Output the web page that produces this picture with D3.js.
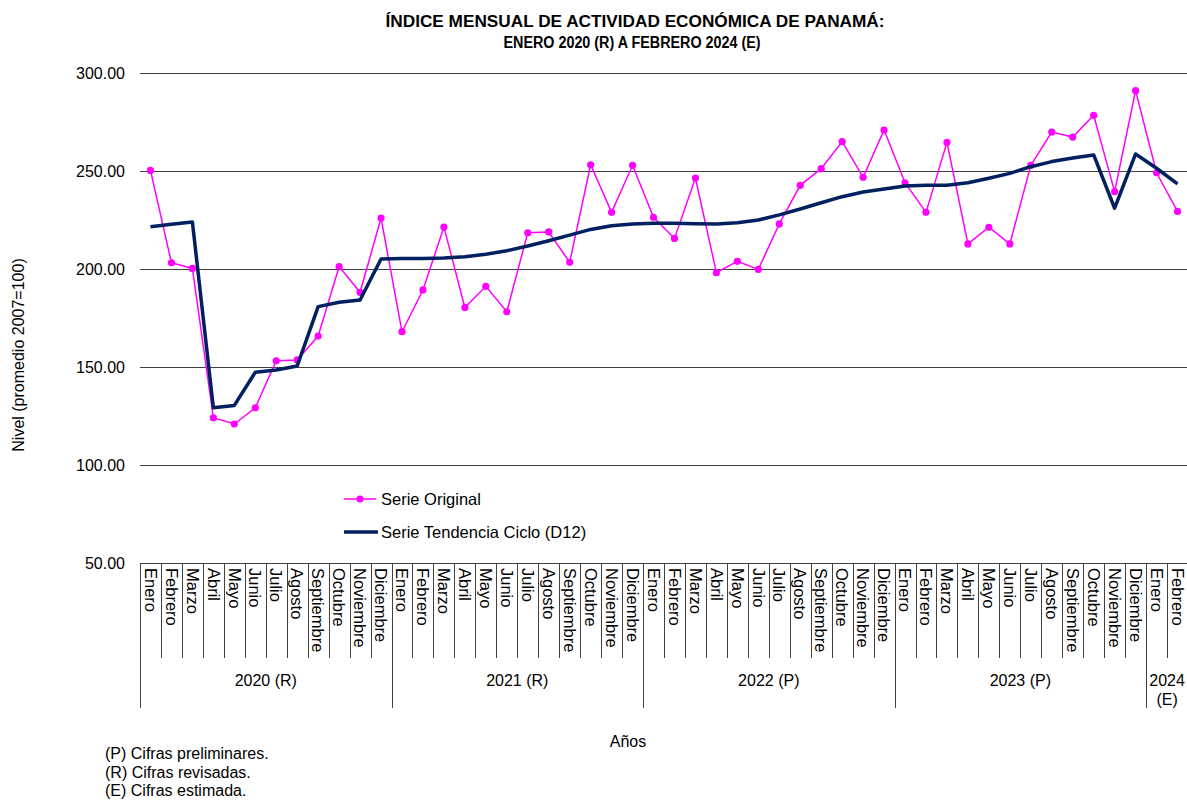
<!DOCTYPE html>
<html>
<head>
<meta charset="utf-8">
<script src="https://cdn.jsdelivr.net/npm/d3@7"></script>
<style>
  body { margin: 0; background: #fff; }
  svg { font-family: "Liberation Sans", Arial, sans-serif; }
</style>
</head>
<body>
<svg id="chart" width="1187" height="800"></svg>
<script>
// Month names for each year
const monthNames = ["Enero", "Febrero", "Marzo", "Abril", "Mayo", "Junio", "Julio", "Agosto",
  "Septiembre", "Octubre", "Noviembre", "Diciembre"];

// Year groups and how many months each one has
const yearGroups = [
  {label: ["2020 (R)"], months: 12},
  {label: ["2021 (R)"], months: 12},
  {label: ["2022 (P)"], months: 12},
  {label: ["2023 (P)"], months: 12},
  {label: ["2024", "(E)"], months: 2}
];

// Serie Original
const original = [
  250.3, 203.2, 200.3, 124.1, 120.9, 129.2, 153.2, 153.6, 165.8, 201.2, 188.1, 226.0,
  168.0, 189.3, 221.4, 180.4, 191.2, 178.2, 218.5, 218.9, 203.4, 253.2, 228.9, 252.9,
  226.4, 215.6, 246.4, 198.1, 203.9, 199.8, 223.0, 242.7, 251.2, 265.0, 246.8, 270.9,
  244.0, 228.9, 264.6, 212.8, 221.3, 212.8, 252.9, 269.9, 267.3, 278.4, 239.5, 291.0,
  249.1, 229.4
];

// Serie Tendencia Ciclo (D12)
const trend = [
  221.6, 222.8, 224.0, 129.2, 130.4, 147.3, 148.5, 150.5, 180.8, 183.0, 184.2, 205.1,
  205.3, 205.4, 205.6, 206.3, 207.5, 209.3, 211.7, 214.4, 217.3, 220.2, 222.1, 223.0,
  223.3, 223.3, 223.1, 223.0, 223.6, 225.0, 227.6, 230.6, 233.8, 236.9, 239.3, 240.8,
  242.3, 242.7, 242.7, 244.0, 246.3, 248.8, 252.2, 254.8, 256.6, 258.2, 231.0, 258.7,
  251.4, 243.4
];

const yTicks = [50, 100, 150, 200, 250, 300];

const footnotes = ["(P) Cifras preliminares.", "(R) Cifras revisadas.", "(E) Cifras estimada."];

// Build month labels from the year groups
const monthLabels = [];
yearGroups.forEach(g => { for (let i = 0; i < g.months; i++) monthLabels.push(monthNames[i]); });

const svg = d3.select("#chart");
const plotLeft = 140, plotRight = 1188, plotTop = 73, plotBottom = 563;

const x = d3.scaleBand().domain(d3.range(original.length)).range([plotLeft, plotRight]);
const y = d3.scaleLinear().domain([50, 300]).range([plotBottom, plotTop]);

// Title (two lines, condensed to the reference width)
svg.append("text")
  .attr("x", 635).attr("y", 27)
  .attr("text-anchor", "middle")
  .attr("textLength", 499).attr("lengthAdjust", "spacingAndGlyphs")
  .style("font-size", "16px").style("font-weight", "bold")
  .text("ÍNDICE MENSUAL DE ACTIVIDAD ECONÓMICA DE PANAMÁ:");
svg.append("text")
  .attr("x", 632).attr("y", 48)
  .attr("text-anchor", "middle")
  .attr("textLength", 257).attr("lengthAdjust", "spacingAndGlyphs")
  .style("font-size", "16px").style("font-weight", "bold")
  .text("ENERO 2020 (R) A FEBRERO 2024 (E)");

// Gridlines + y axis labels
const yAxis = svg.append("g")
  .attr("transform", "translate(" + plotLeft + ",0)")
  .call(d3.axisLeft(y).tickValues(yTicks).tickSize(-(plotRight - plotLeft)).tickPadding(15).tickFormat(d3.format(".2f")));
yAxis.select(".domain").remove();
yAxis.selectAll(".tick line").attr("stroke", "#404040").attr("stroke-width", 1);
yAxis.selectAll(".tick text").style("font-size", "16px").style("fill", "#000")
  .attr("font-family", "Liberation Sans, Arial, sans-serif");

// Y label
svg.append("text")
  .attr("transform", "translate(24,355) rotate(-90)")
  .attr("text-anchor", "middle")
  .style("font-size", "16px")
  .text("Nivel (promedio 2007=100)");

// Category axis: month cells
const xAxis = svg.append("g").attr("stroke", "#404040").attr("fill", "none");
xAxis.append("line").attr("x1", plotLeft).attr("x2", plotRight).attr("y1", plotBottom + 0.5).attr("y2", plotBottom + 0.5);

const bw = x.bandwidth();
d3.range(original.length + 1).forEach(i => {
  const xx = Math.round(plotLeft + i * bw) + 0.5;
  xAxis.append("line").attr("x1", xx).attr("x2", xx).attr("y1", plotBottom).attr("y2", 658);
});

// year boundaries
let start = 0;
yearGroups.forEach(g => {
  const x0 = x(start);
  const x1 = x(start + g.months - 1) + bw;
  const xx = Math.round(x0) + 0.5;
  xAxis.append("line").attr("x1", xx).attr("x2", xx).attr("y1", 658).attr("y2", 708);
  const t = svg.append("text").attr("text-anchor", "middle").style("font-size", "16px");
  g.label.forEach((l, li) => {
    t.append("tspan").attr("x", (x0 + x1) / 2).attr("y", 686 + li * 19).text(l);
  });
  start += g.months;
});

svg.append("g").selectAll("text").data(monthLabels).join("text")
  .attr("transform", (d, i) => "translate(" + (x(i) + bw / 2) + "," + 568 + ") rotate(90)")
  .attr("dy", "0.35em")
  .style("font-size", "16.5px")
  .text(d => d);

// Lines
const lineGen = d3.line().x((d, i) => x(i) + bw / 2).y(d => y(d));

svg.append("path").datum(original)
  .attr("fill", "none").attr("stroke", "#FF00FF").attr("stroke-width", 1.5)
  .attr("d", lineGen);

svg.append("g").selectAll("circle").data(original).join("circle")
  .attr("cx", (d, i) => x(i) + bw / 2).attr("cy", d => y(d)).attr("r", 3.6)
  .attr("fill", "#FF00FF");

svg.append("path").datum(trend)
  .attr("fill", "none").attr("stroke", "#002060").attr("stroke-width", 3.5)
  .attr("stroke-linejoin", "round")
  .attr("d", lineGen);

// Legend
const lg = svg.append("g");
lg.append("line").attr("x1", 344).attr("x2", 376).attr("y1", 499).attr("y2", 499)
  .attr("stroke", "#FF00FF").attr("stroke-width", 1.5);
lg.append("circle").attr("cx", 360).attr("cy", 499).attr("r", 3.6).attr("fill", "#FF00FF");
lg.append("text").attr("x", 381).attr("y", 505).style("font-size", "16.5px").text("Serie Original");
lg.append("line").attr("x1", 344).attr("x2", 378).attr("y1", 532).attr("y2", 532)
  .attr("stroke", "#002060").attr("stroke-width", 3.5);
lg.append("text").attr("x", 381).attr("y", 538).style("font-size", "16.5px").text("Serie Tendencia Ciclo (D12)");

// Axis title
svg.append("text").attr("x", 628).attr("y", 747).attr("text-anchor", "middle")
  .style("font-size", "16px").text("Años");

// Footnotes
svg.append("g").selectAll("text").data(footnotes).join("text")
  .attr("x", 105).attr("y", (d, i) => 759 + i * 18.5)
  .style("font-size", "16px")
  .text(d => d);
</script>
</body>
</html>
